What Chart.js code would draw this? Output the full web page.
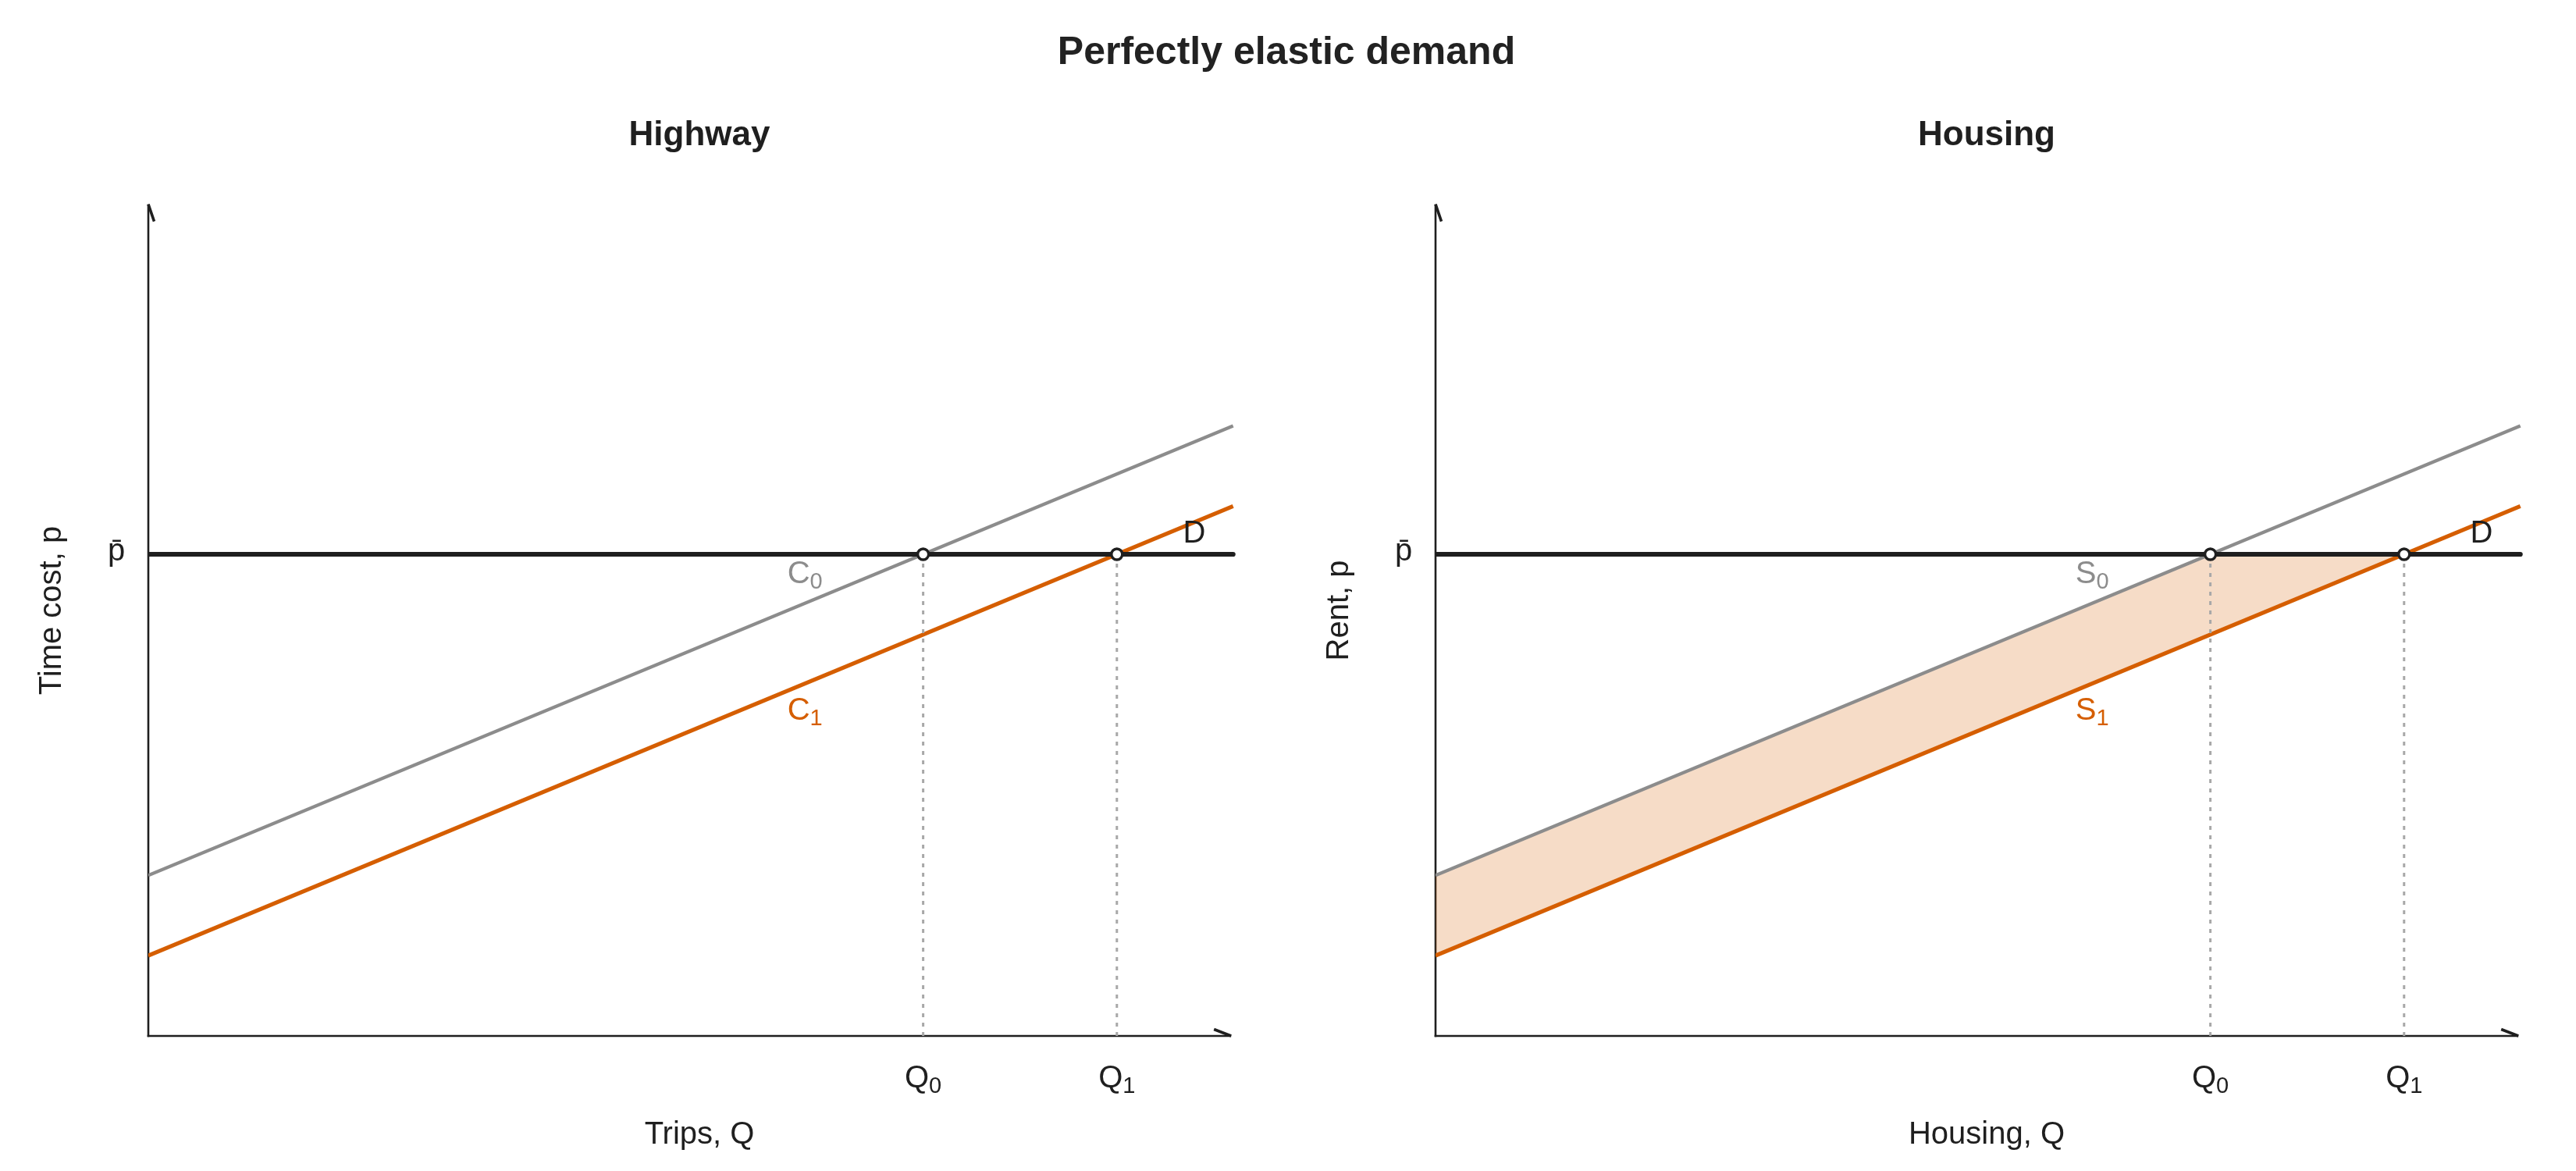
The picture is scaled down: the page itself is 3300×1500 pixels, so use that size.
<!DOCTYPE html>
<html><head><meta charset="utf-8">
<script src="https://cdn.jsdelivr.net/npm/chart.js@4.4.1/dist/chart.umd.min.js"></script>
<style>
html,body{margin:0;padding:0;background:#fff;overflow:hidden;width:3300px;height:1500px;}
#title{position:absolute;left:0;top:40px;width:3296px;text-align:center;font:bold 50px 'Liberation Sans',Arial,sans-serif;line-height:50px;color:#222;z-index:5;}
canvas{position:absolute;top:0;}
#c1{left:0px;}
#c2{left:1649px;}
</style></head><body>
<div id="title">Perfectly elastic demand</div>
<canvas id="c1" width="1650" height="1500"></canvas>
<canvas id="c2" width="1650" height="1500"></canvas>
<script>
const FONT = "'Liberation Sans', Arial, sans-serif";

// ---- data ----
const curveX = [0, 5.6];
const curve0Y = [2, 7.6];
const curve1Y = [1, 6.6];
const demandX = [0, 5.6];
const demandY = [6, 6];
const eqQ = [4, 5];
const eqP = [6, 6];
const qTickLabels = [['Q', '0'], ['Q', '1']];
const pBarLabel = 'p\u0304';
const shadeX = [0, 4, 5];
const shadeUpperY = [2, 6, 6];
const shadeLowerY = [1, 5, 6];
const panelTitles = ['Highway', 'Housing'];
const xTitles = ['Trips, Q', 'Housing, Q'];
const yTitles = ['Time cost, p', 'Rent, p'];
const curveLabels = [[['C', '0'], ['C', '1']], [['S', '0'], ['S', '1']]];
const curveLabelX = [3.39, 3.39];
const curveLabelY = [5.64, 3.94];
const demandLabel = 'D';
const demandLabelX = 5.40;
const demandLabelY = 6.15;
const axisEndX = 5.59;
const axisEndY = 10.36;
const scaleMaxX = 5.69;
const scaleMaxY = 10.6;

// ---- styles ----
const GRAY = '#8c8c8c', ORANGE = '#d55e00', INK = '#1f1f1f', DOT = '#a8a8a8';
const SHADE = 'rgba(213,94,0,0.22)';

function pts(xs, ys) { return xs.map((x, i) => ({x: x, y: ys[i]})); }

function subText(ctx, parts, cx, baseline, color) {
  ctx.save();
  ctx.fillStyle = color; ctx.textBaseline = 'alphabetic'; ctx.textAlign = 'left';
  ctx.font = '40px ' + FONT; const w1 = ctx.measureText(parts[0]).width;
  ctx.font = '29px ' + FONT; const w2 = ctx.measureText(parts[1]).width;
  const x0 = cx - (w1 + w2) / 2;
  ctx.font = '40px ' + FONT; ctx.fillText(parts[0], x0, baseline);
  ctx.font = '29px ' + FONT; ctx.fillText(parts[1], x0 + w1, baseline + 7);
  ctx.restore();
}

const axesPlugin = {
  id: 'axesArrows',
  beforeDatasetsDraw(chart) {
    const ctx = chart.ctx, xs = chart.scales.x, ys = chart.scales.y;
    const x0 = xs.getPixelForValue(0), y0 = ys.getPixelForValue(0);
    const xe = xs.getPixelForValue(axisEndX), yt = ys.getPixelForValue(axisEndY);
    ctx.save();
    ctx.strokeStyle = INK; ctx.lineWidth = 2.6; ctx.lineCap = 'butt';
    ctx.beginPath(); ctx.moveTo(x0, y0 + 1.3); ctx.lineTo(x0, yt); ctx.stroke();
    ctx.beginPath(); ctx.moveTo(x0 - 1.3, y0); ctx.lineTo(xe, y0); ctx.stroke();
    ctx.lineWidth = 3.6;
    ctx.beginPath();
    ctx.moveTo(x0, yt); ctx.lineTo(x0 + 7.5, yt + 22);
    ctx.moveTo(xe, y0); ctx.lineTo(xe - 22, y0 - 8.5);
    ctx.stroke();
    ctx.restore();
  }
};

const labelsPlugin = {
  id: 'panelLabels',
  afterDatasetsDraw(chart) {
    const ctx = chart.ctx, xs = chart.scales.x, ys = chart.scales.y;
    const k = chart.options.plugins.panelLabels.panel;
    const x0 = xs.getPixelForValue(0), y0 = ys.getPixelForValue(0);
    eqQ.forEach((q, i) => subText(ctx, qTickLabels[i], xs.getPixelForValue(q), y0 + 66, INK));
    ctx.save();
    ctx.fillStyle = INK; ctx.font = '40px ' + FONT; ctx.textAlign = 'center'; ctx.textBaseline = 'alphabetic';
    ctx.fillText(pBarLabel, x0 - 41, ys.getPixelForValue(eqP[0]) + 8);
    ctx.fillText(demandLabel, xs.getPixelForValue(demandLabelX), ys.getPixelForValue(demandLabelY));
    ctx.restore();
    const cols = [GRAY, ORANGE];
    curveLabels[k].forEach((lab, i) =>
      subText(ctx, lab, xs.getPixelForValue(curveLabelX[i]), ys.getPixelForValue(curveLabelY[i]), cols[i]));
  }
};

function makePanel(id, k, shaded) {
  const datasets = [
    {data: pts(eqQ, eqP), showLine: false, pointRadius: 7, pointBorderWidth: 3.4,
     pointBackgroundColor: '#ffffff', pointBorderColor: INK, order: 0},
    {data: pts(demandX, demandY), showLine: true, borderColor: INK, borderWidth: 6.2,
     borderCapStyle: 'round', pointRadius: 0, order: 2},
    {data: pts(curveX, curve1Y), showLine: true, borderColor: ORANGE, borderWidth: 5.2,
     pointRadius: 0, order: 3},
    {data: pts(curveX, curve0Y), showLine: true, borderColor: GRAY, borderWidth: 4.4,
     pointRadius: 0, order: 4}
  ];
  eqQ.forEach((q, i) => datasets.push({
    data: [{x: q, y: 0}, {x: q, y: eqP[i]}], showLine: true, borderColor: DOT, borderWidth: 3,
    borderDash: [5, 7], pointRadius: 0, order: 1
  }));
  if (shaded) {
    datasets.push({data: pts(shadeX, shadeUpperY), showLine: true, borderColor: 'rgba(0,0,0,0)',
      borderWidth: 1, pointRadius: 0, backgroundColor: SHADE, fill: '+1', order: 6});
    datasets.push({data: pts(shadeX, shadeLowerY), showLine: true, borderColor: 'rgba(0,0,0,0)',
      borderWidth: 1, pointRadius: 0, fill: false, order: 7});
  }
  return new Chart(document.getElementById(id), {
    type: 'scatter',
    data: {datasets: datasets},
    plugins: [axesPlugin, labelsPlugin],
    options: {
      responsive: false, animation: false, devicePixelRatio: 1,
      layout: {padding: {left: 0, right: 48, top: 0, bottom: 0}},
      events: [],
      plugins: {
        legend: {display: false}, tooltip: {enabled: false},
        panelLabels: {panel: k},
        title: {display: true, text: panelTitles[k], fullSize: false, color: INK,
          font: {family: FONT, size: 44, weight: 'bold', lineHeight: 1.2},
          padding: {top: 147.4, bottom: 36.8}}
      },
      scales: {
        x: {type: 'linear', min: 0, max: scaleMaxX, grid: {display: false}, border: {display: false},
          ticks: {display: false},
          title: {display: true, text: xTitles[k], color: INK, font: {family: FONT, size: 40, lineHeight: 1.2},
            padding: {top: 0, bottom: 22}},
          afterFit(s) { s.height = 173; }},
        y: {type: 'linear', min: 0, max: scaleMaxY, grid: {display: false}, border: {display: false},
          ticks: {display: false},
          title: {display: true, text: yTitles[k], color: INK, font: {family: FONT, size: 40, lineHeight: 1.2},
            padding: {top: 43, bottom: 0}},
          afterFit(s) { s.width = 190; }}
      }
    }
  });
}

makePanel('c1', 0, false);
makePanel('c2', 1, true);
</script>
</body></html>
